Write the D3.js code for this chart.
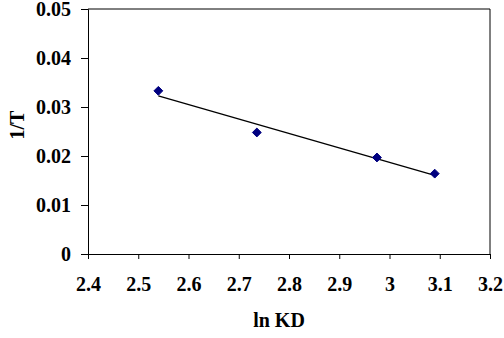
<!DOCTYPE html>
<html>
<head>
<meta charset="utf-8">
<script src="https://cdnjs.cloudflare.com/ajax/libs/d3/7.8.5/d3.min.js"></script>
<style>
  body { margin: 0; background: #fff; }
</style>
</head>
<body>
<div id="chart"></div>
<script>
// data
const lnKD = [2.540, 2.736, 2.975, 3.090];
const invT = [0.0333, 0.0248, 0.0197, 0.0164];
const xTicks = [2.4, 2.5, 2.6, 2.7, 2.8, 2.9, 3, 3.1, 3.2];
const yTicks = [0, 0.01, 0.02, 0.03, 0.04, 0.05];

const width = 504, height = 338;
const margin = {left: 88, right: 14, top: 9, bottom: 84};
const serif = "\"Liberation Serif\", \"Times New Roman\", serif";

const svg = d3.select("#chart")
              .append("svg")
                  .attr("width", width)
                  .attr("height", height);

const x = d3.scaleLinear()
            .domain([2.4, 3.2])
            .range([margin.left, width - margin.right]);

const y = d3.scaleLinear()
            .domain([0, 0.05])
            .range([height - margin.bottom, margin.top]);

// frame: top and right border lines
svg.append("path")
    .attr("d", `M${x(2.4)},${y(0.05)}H${x(3.2)}V${y(0)}`)
    .attr("fill", "none")
    .attr("stroke", "#000")
    .attr("stroke-width", 1);

// x axis
const xAxis = svg.append("g")
    .attr("transform", `translate(0,${y(0)})`)
    .call(d3.axisBottom(x)
            .tickValues(xTicks)
            .tickSize(5)
            .tickPadding(18)
            .tickFormat(d3.format("")));

// y axis
const yAxis = svg.append("g")
    .attr("transform", `translate(${x(2.4)},0)`)
    .call(d3.axisLeft(y)
            .tickValues(yTicks)
            .tickSize(7)
            .tickPadding(10)
            .tickFormat(d => d === 0 ? "0" : d3.format(".2f")(d)));

[xAxis, yAxis].forEach(function(g) {
    g.attr("font-family", serif).attr("font-size", 20);
    g.select(".domain").attr("stroke", "#000");
    g.selectAll(".tick line").attr("stroke", "#000");
    g.selectAll(".tick text")
        .attr("fill", "#000")
        .attr("font-family", serif)
        .attr("font-weight", "bold");
});

// least squares trendline
const n = lnKD.length;
const mx = d3.mean(lnKD), my = d3.mean(invT);
let sxy = 0, sxx = 0;
for (let i = 0; i < n; i++) {
    sxy += (lnKD[i] - mx) * (invT[i] - my);
    sxx += (lnKD[i] - mx) * (lnKD[i] - mx);
}
const slope = sxy / sxx;
const icpt = my - slope * mx;
const x0 = d3.min(lnKD), x1 = d3.max(lnKD);

svg.append("line")
    .attr("x1", x(x0))
    .attr("y1", y(icpt + slope * x0))
    .attr("x2", x(x1))
    .attr("y2", y(icpt + slope * x1))
    .attr("stroke", "#000")
    .attr("stroke-width", 1.3);

// diamond markers
const diamond = d3.symbol().type(d3.symbolDiamond2).size(50);
svg.append("g")
    .selectAll("path")
    .data(lnKD.map((v, i) => ({x: v, y: invT[i]})))
    .join("path")
        .attr("d", diamond)
        .attr("transform", d => `translate(${x(d.x)},${y(d.y)})`)
        .attr("fill", "#000080")
        .attr("stroke", "#000080")
        .attr("stroke-width", 1);

// axis titles
svg.append("text")
    .attr("x", 279)
    .attr("y", 327)
    .attr("text-anchor", "middle")
    .attr("font-family", serif)
    .attr("font-size", 20)
    .attr("font-weight", "bold")
    .text("ln KD");

svg.append("text")
    .attr("transform", "translate(24,125) rotate(-90)")
    .attr("text-anchor", "middle")
    .attr("font-family", serif)
    .attr("font-size", 20)
    .attr("font-weight", "bold")
    .text("1/T");
</script>
</body>
</html>
